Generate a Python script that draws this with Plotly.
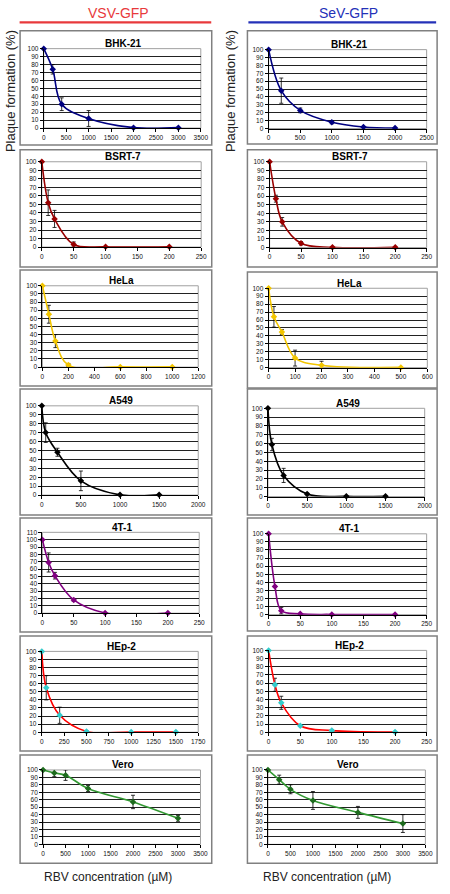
import plotly.graph_objects as go

W, H = 450, 894

# ---------------- data ----------------
# VSV-GFP column
vsv_bhk_x = [0, 200, 400, 1000, 2000, 3000]
vsv_bhk_y = [100, 74, 30, 12, 0.5, 0.5]
vsv_bhk_e = [0, 6, 8, 10, 0, 0]

vsv_bsrt_x = [0, 10, 20, 50, 100, 200]
vsv_bsrt_y = [100, 52, 33, 3, 0.3, 0.3]
vsv_bsrt_e = [0, 15, 10, 3, 0, 0]

vsv_hela_x = [0, 50, 100, 200, 600, 1000]
vsv_hela_y = [100, 65, 32, 2.5, 0.3, 0.3]
vsv_hela_e = [0, 11, 8, 2, 0, 0]

vsv_a549_x = [0, 50, 200, 500, 1000, 1500]
vsv_a549_y = [100, 70, 48, 16, 0.3, 0.3]
vsv_a549_e = [0, 11, 4.5, 11, 0, 0]

vsv_4t1_x = [0, 10, 20, 50, 100, 200]
vsv_4t1_y = [100, 69, 51, 18, 0.3, 0.3]
vsv_4t1_e = [0, 13, 4.5, 2, 0, 0]

vsv_hep2_x = [0, 50, 200, 500, 1000, 1500]
vsv_hep2_y = [100, 55, 21, 1, 0.3, 0.3]
vsv_hep2_e = [0, 15, 10, 1, 0, 0]

vsv_vero_x = [0, 250, 500, 1000, 2000, 3000]
vsv_vero_y = [100, 96, 93, 75, 57, 35]
vsv_vero_e = [0, 5, 7, 4, 9, 4]

# SeV-GFP column
sev_bhk_x = [0, 200, 500, 1000, 1500, 2000]
sev_bhk_y = [100, 48, 23, 8, 2, 0.5]
sev_bhk_e = [0, 16, 3, 2, 0, 0]

sev_bsrt_x = [0, 10, 20, 50, 100, 200]
sev_bsrt_y = [100, 57, 30, 5, 0.3, 0.3]
sev_bsrt_e = [0, 4, 5, 2, 0, 0]

sev_hela_x = [0, 20, 50, 100, 200, 500]
sev_hela_y = [100, 64, 45, 12, 3, 0.3]
sev_hela_e = [0, 13, 3, 10, 5, 0]

sev_a549_x = [0, 50, 200, 500, 1000, 1500]
sev_a549_y = [100, 59, 24, 3, 0.3, 0.3]
sev_a549_e = [0, 7, 8, 1, 0, 0]

sev_4t1_x = [0, 10, 20, 50, 100, 200]
sev_4t1_y = [100, 35, 5, 1, 0.3, 0.3]
sev_4t1_e = [0, 1, 4, 0, 0, 0]

sev_hep2_x = [0, 10, 20, 50, 100, 200]
sev_hep2_y = [100, 58, 36, 8, 2, 0.3]
sev_hep2_e = [0, 8, 8, 1, 1, 0]

sev_vero_x = [0, 250, 500, 1000, 2000, 3000]
sev_vero_y = [100, 87, 74, 59, 43, 28]
sev_vero_e = [0, 6, 6, 12, 8, 12]

cell_lines = ["BHK-21", "BSRT-7", "HeLa", "A549", "4T-1", "HEp-2", "Vero"]
column_titles = ["VSV-GFP", "SeV-GFP"]
y_label = "Plaque formation (%)"
x_label = "RBV concentration (\u00b5M)"

# x-axis maxima / tick steps, y maxima
vsv_xmax = [3500, 250, 1200, 2000, 250, 1750, 3500]
vsv_xstep = [500, 50, 200, 500, 50, 250, 500]
vsv_ymax = [100, 100, 100, 100, 110, 100, 100]
sev_xmax = [2500, 250, 600, 2000, 250, 250, 3500]
sev_xstep = [500, 50, 100, 500, 50, 50, 500]
sev_ymax = [100, 100, 100, 100, 100, 100, 100]

vsv_data = [(vsv_bhk_x, vsv_bhk_y, vsv_bhk_e), (vsv_bsrt_x, vsv_bsrt_y, vsv_bsrt_e),
            (vsv_hela_x, vsv_hela_y, vsv_hela_e), (vsv_a549_x, vsv_a549_y, vsv_a549_e),
            (vsv_4t1_x, vsv_4t1_y, vsv_4t1_e), (vsv_hep2_x, vsv_hep2_y, vsv_hep2_e),
            (vsv_vero_x, vsv_vero_y, vsv_vero_e)]
sev_data = [(sev_bhk_x, sev_bhk_y, sev_bhk_e), (sev_bsrt_x, sev_bsrt_y, sev_bsrt_e),
            (sev_hela_x, sev_hela_y, sev_hela_e), (sev_a549_x, sev_a549_y, sev_a549_e),
            (sev_4t1_x, sev_4t1_y, sev_4t1_e), (sev_hep2_x, sev_hep2_y, sev_hep2_e),
            (sev_vero_x, sev_vero_y, sev_vero_e)]

# ---------------- styles / layout geometry ----------------
line_colors = ["#000080", "#990000", "#F2C500", "#000000", "#800080", "#FF0000", "#339933"]
marker_colors = ["#000080", "#990000", "#F2C500", "#000000", "#800080", "#33CCCC", "#1E6B1E"]

# plot-area pixel geometry per row: (x_left, x_right, y_top_gridline, y_zero)
geom_left = [(42.7, 203.3, 45, 125), (40.7, 203.7, 159, 245), (41.3, 200.7, 284, 366),
             (40.7, 200.7, 405, 495), (41.3, 201.7, 532.5, 614), (40.7, 200.7, 652.5, 734),
             (42, 203, 772, 847)]
geom_right = [(272.7, 434.3, 46, 125.5), (273.7, 434.3, 159, 245.5), (272.7, 435, 286.5, 366.5),
              (272, 432.3, 407.5, 496.5), (272.7, 434.3, 534, 615.5), (272.7, 434.3, 651.5, 734),
              (272, 433, 772, 847)]
box_left = [(18.5, 214.5, 27, 142), (18.5, 214.5, 147, 265), (18.5, 214.5, 268, 385),
            (18.5, 214.5, 388, 515), (18.5, 214.5, 518, 633), (18.5, 214.5, 637, 753),
            (18.5, 214.5, 757, 866)]
box_right = [(251, 445, 27, 141), (251, 445, 147, 265), (251, 445, 270, 387),
             (251, 445, 388, 515), (251, 445, 518, 632), (251, 445, 637, 753),
             (251, 445, 757, 866)]


def px(x):
    return x / W


def py(y):
    return 1 - y / H


fig = go.Figure()
layout = dict(
    width=W, height=H, margin=dict(l=0, r=0, t=0, b=0),
    paper_bgcolor="white", plot_bgcolor="white", showlegend=False,
    font=dict(family="Arial, Liberation Sans, sans-serif", color="#000"),
)
shapes = []
annotations = []

FONT = "Arial, Liberation Sans, sans-serif"
idx = 0
for col, (data, xmaxs, xsteps, ymaxs, geoms, boxes) in enumerate([
        (vsv_data, vsv_xmax, vsv_xstep, vsv_ymax, geom_left, box_left),
        (sev_data, sev_xmax, sev_xstep, sev_ymax, geom_right, box_right)]):
    for r in range(7):
        idx += 1
        sfx = "" if idx == 1 else str(idx)
        xs, ys, es = data[r]
        x0, x1, yt, yb = geoms[r]
        bx0, bx1, by0, by1 = boxes[r]
        # panel box
        shapes.append(dict(type="rect", xref="paper", yref="paper",
                           x0=px(bx0), x1=px(bx1), y0=py(by1), y1=py(by0),
                           line=dict(color="#808080", width=1.5), layer="below"))
        # plot area border (gray)
        shapes.append(dict(type="rect", xref="paper", yref="paper",
                           x0=px(x0), x1=px(x1), y0=py(yb), y1=py(yt),
                           line=dict(color="#A0A0A0", width=1), layer="below"))
        layout["xaxis" + sfx] = dict(
            domain=[px(x0), px(x1)], anchor="y" + sfx, range=[0, xmaxs[r]],
            dtick=xsteps[r], tick0=0, showgrid=False, zeroline=False,
            showline=True, linecolor="#000", linewidth=1,
            ticks="outside", ticklen=3, tickcolor="#000", tickwidth=1,
            tickfont=dict(size=6.5, family=FONT, color="#111"), fixedrange=True)
        layout["yaxis" + sfx] = dict(
            domain=[py(yb), py(yt)], anchor="x" + sfx, range=[0, ymaxs[r]],
            dtick=10, tick0=0, showgrid=True, gridcolor="#222", gridwidth=1,
            zeroline=False, showline=True, linecolor="#000", linewidth=1,
            ticks="outside", ticklen=3, tickcolor="#000", tickwidth=1,
            tickfont=dict(size=6.5, family=FONT, color="#111"), fixedrange=True)
        fig.add_trace(go.Scatter(
            x=xs, y=ys, xaxis="x" + sfx, yaxis="y" + sfx, mode="lines+markers",
            line=dict(color=line_colors[r], width=1.6, shape="spline", smoothing=1.0),
            marker=dict(symbol="diamond", size=5, color=marker_colors[r]),
            error_y=dict(type="data", array=es, visible=True, color="#000",
                         thickness=0.8, width=2),
            cliponaxis=False, hoverinfo="skip"))
        # panel title
        annotations.append(dict(
            text="<b>%s</b>" % cell_lines[r], xref="paper", yref="paper",
            x=px((x0 + x1) / 2 + 1.5), y=py(yt - 5), xanchor="center", yanchor="middle",
            showarrow=False, font=dict(size=10, family=FONT, color="#000")))

# column headers with underline
annotations.append(dict(text=column_titles[0], xref="paper", yref="paper", x=px(119), y=py(9),
                        xanchor="center", yanchor="middle", showarrow=False,
                        font=dict(size=14, family=FONT, color="#E8393B")))
annotations.append(dict(text=column_titles[1], xref="paper", yref="paper", x=px(354), y=py(9),
                        xanchor="center", yanchor="middle", showarrow=False,
                        font=dict(size=14, family=FONT, color="#2431B8")))
shapes.append(dict(type="line", xref="paper", yref="paper", x0=px(18), x1=px(214),
                   y0=py(18.5), y1=py(18.5), line=dict(color="#E8393B", width=2.2)))
shapes.append(dict(type="line", xref="paper", yref="paper", x0=px(252), x1=px(444),
                   y0=py(18.5), y1=py(18.5), line=dict(color="#2431B8", width=2.2)))

# axis titles
for xc in (9, 234):
    annotations.append(dict(text=y_label, xref="paper", yref="paper", x=px(xc), y=py(88),
                            xanchor="center", yanchor="middle", textangle=-90, showarrow=False,
                            font=dict(size=13, family=FONT, color="#222")))
for xc in (108, 332):
    annotations.append(dict(text=x_label, xref="paper", yref="paper", x=px(xc), y=py(880),
                            xanchor="center", yanchor="middle", showarrow=False,
                            font=dict(size=12, family=FONT, color="#222")))

layout["shapes"] = shapes
layout["annotations"] = annotations
fig.update_layout(**layout)
fig.write_html("out.html", config={"displayModeBar": False},
               post_script="document.body.style.margin='0px';document.body.style.overflow='hidden';")
